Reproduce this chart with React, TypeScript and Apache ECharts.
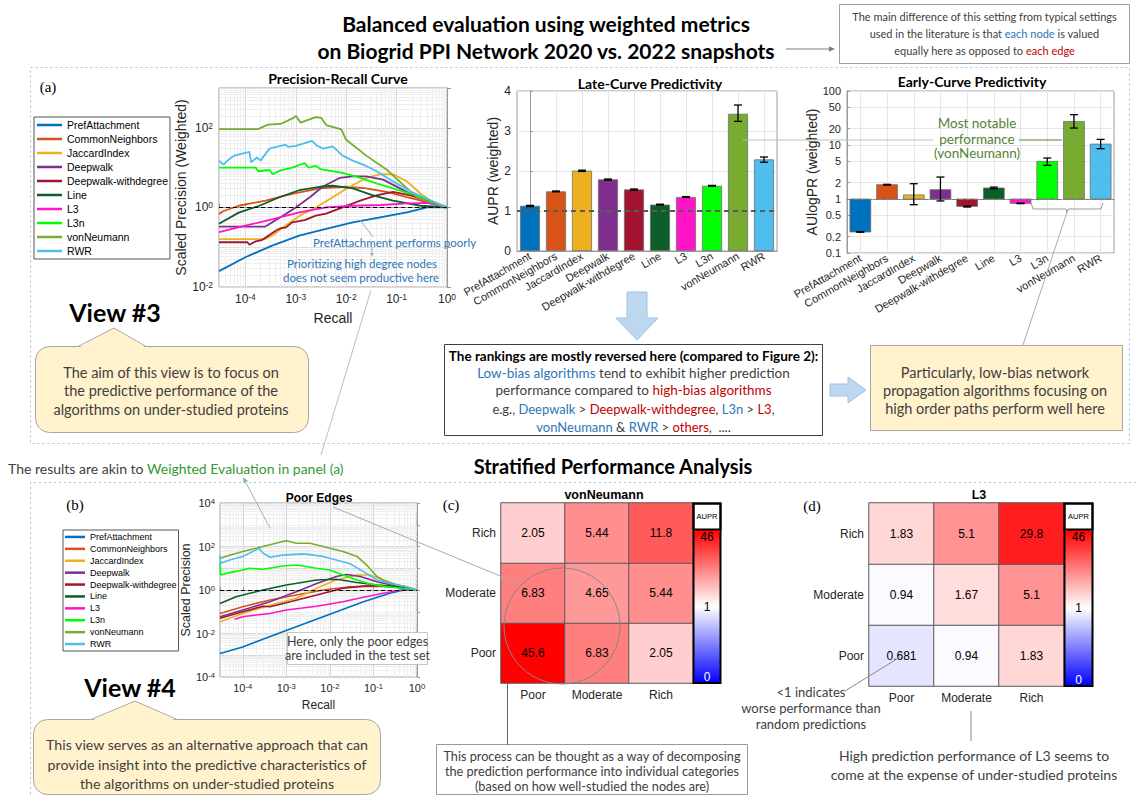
import React, { useEffect, useRef } from 'react';
import * as echarts from 'echarts';

// ---------------- DATA ----------------
const METHODS = ['PrefAttachment', 'CommonNeighbors', 'JaccardIndex', 'Deepwalk', 'Deepwalk-withdegree', 'Line', 'L3', 'L3n', 'vonNeumann', 'RWR'];
const COLORS = ['#0072BD', '#D95319', '#EDB120', '#7E2F8E', '#A2142F', '#0B5E2A', '#FF14C8', '#00FF00', '#77AC30', '#4DBEEE'];

// Panel (a): Precision-Recall curve (weighted) [recall, scaled precision]
const A_PREF = [[3e-5, 0.025], [1e-4, 0.056], [3.4e-4, 0.11], [1.17e-3, 0.195], [4e-3, 0.29], [1.35e-2, 0.42], [4.7e-2, 0.56], [0.16, 0.75], [0.4, 1], [1, 1]];
const A_CN = [[3e-5, 0.68], [3.6e-5, 0.8], [7.4e-5, 1.1], [2.5e-4, 1.48], [8.5e-4, 2.2], [3e-3, 3], [1e-2, 3.3], [2.5e-2, 3], [6.3e-2, 2.45], [0.16, 1.8], [0.4, 1.35], [1, 1]];
const A_JAC = [[3e-5, 0.16], [2.5e-4, 0.16], [3.5e-4, 0.2], [6.3e-4, 0.35], [1.2e-3, 0.62], [2.5e-3, 1], [5.4e-3, 1.8], [1.17e-2, 3.3], [2.5e-2, 5.5], [4.7e-2, 6.8], [8.5e-2, 6.8], [0.16, 4.5], [0.3, 2.2], [0.5, 1.4], [1, 1]];
const A_DW = [[3e-5, 0.33], [2.5e-4, 0.33], [6.3e-4, 0.68], [1e-3, 1], [1.9e-3, 1.8], [3.4e-3, 3.3], [7.4e-3, 5.5], [1.35e-2, 6], [2.5e-2, 6], [5.4e-2, 5], [0.117, 3], [0.25, 1.8], [0.5, 1.35], [1, 1]];
const A_DWD = [[3e-5, 0.133], [1.1e-4, 0.133], [1.2e-4, 0.115], [1.6e-4, 0.14], [2.1e-4, 0.15], [4e-4, 0.26], [5e-4, 0.3], [6.3e-4, 0.31], [8.5e-4, 0.42], [1.5e-3, 0.48], [2.5e-3, 0.62], [4e-3, 0.7], [8.5e-3, 1], [1.9e-2, 1.48], [4e-2, 2], [8.5e-2, 2.45], [0.19, 2.0], [0.4, 1.45], [1, 1]];
const A_LINE = [[3e-5, 0.39], [7.4e-5, 0.74], [1.9e-4, 1.1], [4.7e-4, 1.8], [1.17e-3, 2.7], [3e-3, 3.3], [5.4e-3, 3.5], [1.35e-2, 3], [3.4e-2, 2], [8.5e-2, 1.48], [0.3, 1.1], [1, 1]];
const A_L3 = [[3e-5, 0.24], [1e-4, 0.35], [3.4e-4, 0.5], [1.17e-3, 0.75], [4e-3, 1], [1.35e-2, 1.1], [5e-2, 1.15], [0.16, 1.26], [0.4, 1.3], [1, 1]];
const A_L3N = [[3e-5, 10], [1.6e-4, 10], [1.8e-4, 8.1], [3e-4, 8.7], [3.5e-4, 6.8], [5e-4, 8.5], [8.5e-4, 10], [1.5e-3, 12.9], [1.8e-3, 10], [2.5e-3, 11], [3.2e-3, 9], [8.5e-3, 7.4], [1.9e-2, 5.5], [4e-2, 4], [8.5e-2, 3], [0.19, 2.2], [0.4, 1.6], [1, 1]];
const A_VN = [[3e-5, 93], [1.8e-4, 93], [2.8e-4, 120], [5e-4, 125], [9e-4, 178], [1e-3, 200], [1.25e-3, 135], [2.5e-3, 186], [3.2e-3, 178], [4e-3, 117], [8e-3, 91], [1e-2, 50], [2.5e-2, 20], [6.3e-2, 9], [0.126, 4], [0.25, 1.8], [0.5, 1.3], [1, 1]];
const A_RWR = [[3e-5, 15], [3.7e-5, 12], [5e-5, 17], [6e-5, 20], [1.2e-4, 25], [1.3e-4, 13.5], [1.7e-4, 18], [2e-4, 15], [3e-4, 30], [6.3e-4, 38], [7e-4, 33], [1e-3, 35], [2.1e-3, 47], [2.6e-3, 36], [3.5e-3, 30], [5.4e-3, 34], [8.5e-3, 20], [1.35e-2, 15], [2.5e-2, 11], [4e-2, 8.1], [8.5e-2, 4.5], [0.19, 2.5], [0.4, 1.65], [1, 1]];

// Panel (b): Poor edges PR curve
const B_PREF = [[3e-5, 0.0012], [1e-4, 0.0024], [8.3e-4, 0.012], [7e-3, 0.059], [5.9e-2, 0.29], [0.24, 0.71], [0.49, 1], [1, 1]];
const B_CN = [[3e-5, 0.083], [1e-4, 0.17], [4.2e-4, 0.35], [1.7e-3, 0.59], [7e-3, 1], [2.9e-2, 1.4], [0.12, 1.5], [0.4, 1.3], [1, 1]];
const B_JAC = [[3e-5, 0.035], [1e-4, 0.083], [4.2e-4, 0.2], [1.7e-3, 0.42], [5.9e-3, 1.4], [1.4e-2, 2.9], [4.2e-2, 4.9], [8.3e-2, 4.9], [0.17, 2.9], [0.4, 1.6], [1, 1]];
const B_DW = [[3e-5, 0.059], [1e-4, 0.12], [4.2e-4, 0.29], [1.7e-3, 0.83], [5e-3, 2.0], [1.4e-2, 4.2], [2.4e-2, 5.2], [5e-2, 4.2], [0.12, 2.4], [0.35, 1.5], [1, 1]];
const B_DWD = [[3e-5, 0.05], [1e-4, 0.1], [2.9e-4, 0.18], [4.2e-4, 0.17], [1e-3, 0.26], [5e-3, 0.59], [2e-2, 1.2], [5.9e-2, 1.5], [0.17, 1.6], [0.4, 1.35], [1, 1]];
const B_LINE = [[3e-5, 0.24], [7e-5, 0.49], [2.9e-4, 1], [1e-3, 1.7], [5e-3, 2.9], [1.4e-2, 3.1], [4.2e-2, 2.2], [0.12, 1.7], [0.35, 1.4], [1, 1]];
const B_L3 = [[6.5e-5, 0.045], [1e-4, 0.059], [2e-4, 0.071], [4.2e-4, 0.083], [1e-3, 0.12], [5e-3, 0.18], [2e-2, 0.29], [5.9e-2, 0.46], [0.17, 0.71], [0.42, 1], [1, 1]];
const B_L3N = [[3e-5, 17], [3.1e-5, 4.9], [5e-5, 6.3], [1e-4, 8.3], [1.4e-4, 10], [2.9e-4, 9], [8.3e-4, 12.6], [1.7e-3, 14], [5e-3, 10], [1e-2, 8.3], [2e-2, 4.9], [4.2e-2, 2.9], [8.3e-2, 1.9], [0.17, 1.5], [1, 1]];
const B_VN = [[3e-5, 29], [5e-5, 40], [1e-4, 59], [2.9e-4, 100], [8.3e-4, 170], [1e-3, 182], [1.7e-3, 141], [3.5e-3, 141], [7e-3, 100], [2e-2, 59], [4.2e-2, 35], [7e-2, 14], [0.12, 4.2], [0.2, 2.4], [0.35, 1.7], [0.59, 1.4], [1, 1]];
const B_RWR = [[3e-5, 40], [3.1e-5, 17], [5e-5, 24], [1e-4, 35], [2e-4, 70], [2.4e-4, 80], [2.9e-4, 50], [4.2e-4, 32], [8.3e-4, 40], [2.5e-3, 46], [7e-3, 35], [1.4e-2, 24], [2.9e-2, 16], [5.9e-2, 7], [0.12, 2.9], [0.24, 2.0], [0.5, 1.5], [1, 1]];

// Late-curve predictivity (AUPR weighted) with error bars
const LATE_AUPR = [1.13, 1.49, 2.01, 1.79, 1.54, 1.16, 1.35, 1.63, 3.43, 2.29];
const LATE_LO = [1.11, 1.48, 1.99, 1.77, 1.52, 1.15, 1.34, 1.62, 3.24, 2.22];
const LATE_HI = [1.14, 1.50, 2.02, 1.80, 1.55, 1.17, 1.36, 1.64, 3.65, 2.35];

// Early-curve predictivity (AUlogPR weighted)
const EARLY_AULOGPR = [0.245, 1.84, 1.19, 1.49, 0.73, 1.6, 0.83, 4.98, 27.3, 10.4];
const EARLY_LO = [0.243, 1.81, 0.785, 0.92, 0.71, 1.55, 0.82, 4.2, 20.6, 8.55];
const EARLY_HI = [0.248, 1.87, 1.92, 2.55, 0.74, 1.66, 0.84, 5.74, 36.5, 12.7];
const EARLY_TICKS = [0.1, 0.2, 0.5, 1, 2, 5, 10, 20, 50, 100];

// Stratified heatmaps (rows from bottom: Poor, Moderate, Rich; columns Poor, Moderate, Rich)
const STRATA = ['Poor', 'Moderate', 'Rich'];
const VN_POOR = [45.6, 6.83, 2.05];
const VN_MOD = [6.83, 4.65, 5.44];
const VN_RICH = [2.05, 5.44, 11.8];
const L3_POOR = [0.681, 0.94, 1.83];
const L3_MOD = [0.94, 1.67, 5.1];
const L3_RICH = [1.83, 5.1, 29.8];
const CBAR_MAX = 46;

// ---------------- OPTION ----------------
const FA = 'Liberation Sans, Arial, sans-serif';
const FC = 'Lato, sans-serif';
const AXC = '#9a9a9a';
const LBL = '#262626';
const BLUE = '#2E75B6';
const RED = '#C00000';
const GREEN = '#548235';
const XMIN = 3e-5;

function minorLogs(lo: number, hi: number) {
  const out: number[] = [];
  for (let e = Math.floor(lo); e < Math.ceil(hi); e++) {
    for (let k = 2; k <= 9; k++) {
      const v = e + Math.log10(k);
      if (v > lo && v < hi) out.push(v);
    }
  }
  return out;
}

function supLabel(v: number, evenOnly: boolean) {
  const e = Math.log10(v);
  const r = Math.round(e);
  if (Math.abs(e - r) > 1e-6) return '';
  if (evenOnly && r % 2 !== 0) return '';
  return '{b|10}{s|' + r + '}';
}

function buildOption() {
  const richLog = (fs: number) => ({
    b: { fontSize: fs, fontFamily: FA, color: LBL },
    s: { fontSize: fs * 0.7, fontFamily: FA, color: LBL, verticalAlign: 'top' },
  });

  const dashed1 = (color: string, width: number, dash: number[]) => ({
    silent: true, symbol: 'none', label: { show: false }, animation: false,
    lineStyle: { type: dash, color, width }, data: [{ yAxis: 1 }],
  });

  const series: any[] = [];
  const A_SET = [A_PREF, A_CN, A_JAC, A_DW, A_DWD, A_LINE, A_L3, A_L3N, A_VN, A_RWR];
  const B_SET = [B_PREF, B_CN, B_JAC, B_DW, B_DWD, B_LINE, B_L3, B_L3N, B_VN, B_RWR];
  A_SET.forEach((d, i) => {
    const s: any = {
      type: 'line', name: METHODS[i], xAxisIndex: 0, yAxisIndex: 0, data: d, symbol: 'none', showSymbol: false,
      lineStyle: { width: 1.8, color: COLORS[i] }, itemStyle: { color: COLORS[i] }, z: 3, silent: true,
    };
    if (i === 0) s.markLine = dashed1('#000', 1, [4, 3]);
    series.push(s);
  });
  B_SET.forEach((d, i) => {
    const s: any = {
      type: 'line', name: METHODS[i], xAxisIndex: 3, yAxisIndex: 3, data: d, symbol: 'none', showSymbol: false,
      lineStyle: { width: 1.6, color: COLORS[i] }, itemStyle: { color: COLORS[i] }, z: 3, silent: true,
    };
    if (i === 0) s.markLine = dashed1('#000', 1, [4, 3]);
    series.push(s);
  });

  const errRender = (capW: number) => (params: any, api: any) => {
    const x = api.value(0), lo = api.value(1), hi = api.value(2);
    const a = api.coord([x, lo]);
    const b = api.coord([x, hi]);
    const st = { stroke: '#000', lineWidth: 1.3 };
    return {
      type: 'group', children: [
        { type: 'line', shape: { x1: a[0], y1: a[1], x2: b[0], y2: b[1] }, style: st },
        { type: 'line', shape: { x1: a[0] - capW, y1: a[1], x2: a[0] + capW, y2: a[1] }, style: st },
        { type: 'line', shape: { x1: b[0] - capW, y1: b[1], x2: b[0] + capW, y2: b[1] }, style: st },
      ],
    };
  };

  // Late bars
  series.push({
    type: 'bar', xAxisIndex: 1, yAxisIndex: 1, silent: true, z: 3,
    data: LATE_AUPR.map((v, i) => ({ value: v, itemStyle: { color: COLORS[i] } })),
    barWidth: '77%', itemStyle: { borderColor: '#6e6e6e', borderWidth: 0.8 },
    markLine: dashed1('#5a5a5a', 2, [5, 4]),
  });
  series.push({
    type: 'custom', xAxisIndex: 1, yAxisIndex: 1, silent: true, z: 5,
    data: METHODS.map((m, i) => [i, LATE_LO[i], LATE_HI[i]]),
    encode: { x: 0, y: [1, 2] }, renderItem: errRender(4),
  });

  // Early bars (from 1 on a log axis)
  series.push({
    type: 'custom', xAxisIndex: 2, yAxisIndex: 2, silent: true, z: 3,
    data: METHODS.map((m, i) => [i, EARLY_AULOGPR[i]]),
    encode: { x: 0, y: 1 },
    renderItem: (params: any, api: any) => {
      const i = api.value(0), v = api.value(1);
      const base = api.coord([i, 1]);
      const top = api.coord([i, v]);
      const w = api.size([1, 1])[0] * 0.78;
      return {
        type: 'rect',
        shape: { x: base[0] - w / 2, y: Math.min(base[1], top[1]), width: w, height: Math.abs(base[1] - top[1]) },
        style: { fill: COLORS[i], stroke: '#6e6e6e', lineWidth: 0.8 },
      };
    },
  });
  series.push({
    type: 'line', xAxisIndex: 2, yAxisIndex: 2, silent: true, z: 4, data: [[0, 1]], symbol: 'none',
    lineStyle: { opacity: 0 }, markLine: dashed1('#7a7a7a', 1.2, [4, 3]),
  });
  series.push({
    type: 'custom', xAxisIndex: 2, yAxisIndex: 2, silent: true, z: 5,
    data: METHODS.map((m, i) => [i, EARLY_LO[i], EARLY_HI[i]]),
    encode: { x: 0, y: [1, 2] }, renderItem: errRender(4),
  });

  // Heatmaps
  const hm = (rows: number[][]) => {
    const out: number[][] = [];
    rows.forEach((row, y) => row.forEach((v, x) => out.push([x, y, v, Math.log10(v)])));
    return out;
  };
  const hmSeries = (xi: number, rows: number[][]) => ({
    type: 'heatmap', xAxisIndex: xi, yAxisIndex: xi, silent: true, data: hm(rows),
    label: { show: true, formatter: (p: any) => String(p.value[2]), fontSize: 12, fontFamily: FA, color: '#000' },
    itemStyle: { borderColor: '#5a5a5a', borderWidth: 1 },
  });
  const idxC = series.length;
  series.push(hmSeries(4, [VN_POOR, VN_MOD, VN_RICH]));
  const idxD = series.length;
  series.push(hmSeries(5, [L3_POOR, L3_MOD, L3_RICH]));

  const LM = Math.log10(CBAR_MAX);
  const vmBase = {
    type: 'continuous', dimension: 3, min: -LM, max: LM, calculable: false, hoverLink: false, padding: 0,
    inRange: { color: ['#0000FF', '#FFFFFF', '#FF0000'] }, orient: 'vertical',
  };

  const axisBox = { show: true, lineStyle: { color: AXC } };
  const nameStyle = (fs: number) => ({ fontSize: fs, fontFamily: FA, color: LBL });

  const xAxis: any[] = [
    { // 0: (a) recall
      type: 'log', gridIndex: 0, min: XMIN, max: 1, logBase: 10,
      axisLine: axisBox, axisTick: { show: true, inside: true, length: 4, lineStyle: { color: AXC } },
      axisLabel: { formatter: (v: number) => supLabel(v, false), rich: richLog(12), margin: 6 },
      splitLine: { show: true, lineStyle: { color: '#dcdcdc' } },
      name: 'Recall', nameLocation: 'middle', nameGap: 24, nameTextStyle: nameStyle(14),
    },
    { // 1: late categories
      type: 'category', gridIndex: 1, data: METHODS, axisLine: axisBox, axisTick: { show: false },
      axisLabel: { rotate: 30, interval: 0, fontSize: 11, fontFamily: FA, color: LBL, margin: 4 },
      splitLine: { show: false },
    },
    { // 2: early categories
      type: 'category', gridIndex: 2, data: METHODS, axisLine: axisBox, axisTick: { show: false },
      axisLabel: { rotate: 30, interval: 0, fontSize: 11, fontFamily: FA, color: LBL, margin: 4 },
      splitLine: { show: false },
    },
    { // 3: (b) recall
      type: 'log', gridIndex: 3, min: XMIN, max: 1, logBase: 10,
      axisLine: axisBox, axisTick: { show: true, inside: true, length: 3, lineStyle: { color: AXC } },
      axisLabel: { formatter: (v: number) => supLabel(v, false), rich: richLog(11), margin: 5 },
      splitLine: { show: true, lineStyle: { color: '#d8d8d8' } },
      name: 'Recall', nameLocation: 'middle', nameGap: 22, nameTextStyle: nameStyle(12),
    },
    { // 4: heatmap c
      type: 'category', gridIndex: 4, data: STRATA, axisLine: { show: false }, axisTick: { show: false },
      axisLabel: { interval: 0, fontSize: 12, fontFamily: FA, color: LBL, margin: 6 }, splitLine: { show: false },
    },
    { // 5: heatmap d
      type: 'category', gridIndex: 5, data: STRATA, axisLine: { show: false }, axisTick: { show: false },
      axisLabel: { interval: 0, fontSize: 12, fontFamily: FA, color: LBL, margin: 6 }, splitLine: { show: false },
    },
    { // 6: (a) minor grid overlay
      type: 'value', gridIndex: 0, position: 'top', min: Math.log10(XMIN), max: 0,
      axisLine: { show: false }, axisTick: { show: false, customValues: minorLogs(Math.log10(XMIN), 0) },
      axisLabel: { show: false, customValues: minorLogs(Math.log10(XMIN), 0) },
      splitLine: { show: true, lineStyle: { color: '#efefef' } },
    },
    { // 7: late vertical grid overlay
      type: 'value', gridIndex: 1, position: 'top', min: -0.5, max: METHODS.length - 0.5,
      axisLine: { show: false }, axisTick: { show: false, customValues: METHODS.map((m, i) => i) },
      axisLabel: { show: false, customValues: METHODS.map((m, i) => i) },
      splitLine: { show: true, lineStyle: { color: '#e6e6e6' } },
    },
    { // 8: early vertical grid overlay
      type: 'value', gridIndex: 2, position: 'top', min: -0.5, max: METHODS.length - 0.5,
      axisLine: { show: false }, axisTick: { show: false, customValues: METHODS.map((m, i) => i) },
      axisLabel: { show: false, customValues: METHODS.map((m, i) => i) },
      splitLine: { show: true, lineStyle: { color: '#e6e6e6' } },
    },
    { // 9: (b) minor grid overlay
      type: 'value', gridIndex: 3, position: 'top', min: Math.log10(XMIN), max: 0,
      axisLine: { show: false }, axisTick: { show: false, customValues: minorLogs(Math.log10(XMIN), 0) },
      axisLabel: { show: false, customValues: minorLogs(Math.log10(XMIN), 0) },
      splitLine: { show: true, lineStyle: { color: '#efefef' } },
    },
  ];

  const earlyTickLogs = EARLY_TICKS.map((t) => Math.log10(t));
  const yAxis: any[] = [
    { // 0: (a)
      type: 'log', gridIndex: 0, min: 1e-2, max: 1e3, logBase: 10,
      axisLine: axisBox, axisTick: { show: true, inside: true, length: 4, lineStyle: { color: AXC } },
      axisLabel: { formatter: (v: number) => supLabel(v, true), rich: richLog(12), margin: 6 },
      splitLine: { show: true, lineStyle: { color: '#dcdcdc' } },
      name: 'Scaled Precision (Weighted)', nameLocation: 'middle', nameGap: 27, nameTextStyle: nameStyle(14),
    },
    { // 1: late
      type: 'value', gridIndex: 1, min: 0, max: 4, interval: 1,
      axisLine: axisBox, axisTick: { show: true, inside: true, length: 3, lineStyle: { color: AXC } },
      axisLabel: { fontSize: 12, fontFamily: FA, color: LBL, margin: 6 },
      splitLine: { show: true, lineStyle: { color: '#e6e6e6' } },
      name: 'AUPR (weighted)', nameLocation: 'middle', nameGap: 14, nameTextStyle: nameStyle(14),
    },
    { // 2: early (log data axis, hidden)
      type: 'log', gridIndex: 2, min: 0.1, max: 100, logBase: 10, position: 'right',
      axisLine: { show: false }, axisTick: { show: false }, axisLabel: { show: false }, splitLine: { show: false },
    },
    { // 3: (b)
      type: 'log', gridIndex: 3, min: 1e-4, max: 1e4, logBase: 10, splitNumber: 8,
      axisLine: axisBox, axisTick: { show: true, inside: true, length: 3, lineStyle: { color: AXC } },
      axisLabel: { formatter: (v: number) => supLabel(v, true), rich: richLog(11), margin: 5 },
      splitLine: { show: true, lineStyle: { color: '#d8d8d8' } },
      name: 'Scaled Precision', nameLocation: 'middle', nameGap: 18, nameTextStyle: nameStyle(12.5),
    },
    { // 4: heatmap c rows
      type: 'category', gridIndex: 4, data: STRATA, axisLine: { show: false }, axisTick: { show: false },
      axisLabel: { interval: 0, fontSize: 12, fontFamily: FA, color: LBL, margin: 5 }, splitLine: { show: false },
    },
    { // 5: heatmap d rows
      type: 'category', gridIndex: 5, data: STRATA, axisLine: { show: false }, axisTick: { show: false },
      axisLabel: { interval: 0, fontSize: 12, fontFamily: FA, color: LBL, margin: 5 }, splitLine: { show: false },
    },
    { // 6: (a) minor y overlay
      type: 'value', gridIndex: 0, position: 'right', min: -2, max: 3,
      axisLine: { show: false }, axisTick: { show: false, customValues: minorLogs(-2, 3) },
      axisLabel: { show: false, customValues: minorLogs(-2, 3) },
      splitLine: { show: true, lineStyle: { color: '#efefef' } },
    },
    { // 7: early labelled overlay
      type: 'value', gridIndex: 2, position: 'left', min: -1, max: 2,
      axisLine: axisBox, axisTick: { show: true, inside: true, length: 3, lineStyle: { color: AXC }, customValues: earlyTickLogs },
      axisLabel: {
        customValues: earlyTickLogs, fontSize: 11, fontFamily: FA, color: LBL, margin: 6,
        formatter: (v: number) => String(Number(Math.pow(10, v).toPrecision(2))),
      },
      splitLine: { show: true, lineStyle: { color: '#e6e6e6' } },
      name: 'AUlogPR (weighted)', nameLocation: 'middle', nameGap: 25, nameTextStyle: nameStyle(14),
    },
    { // 8: (b) minor y overlay
      type: 'value', gridIndex: 3, position: 'right', min: -4, max: 4,
      axisLine: { show: false }, axisTick: { show: false, customValues: minorLogs(-4, 4) },
      axisLabel: { show: false, customValues: minorLogs(-4, 4) },
      splitLine: { show: true, lineStyle: { color: '#efefef' } },
    },
  ];

  const grid = [
    { left: 219, top: 88, width: 228, height: 199 },
    { left: 517, top: 91, width: 260, height: 160 },
    { left: 847, top: 91, width: 267, height: 162 },
    { left: 220, top: 503, width: 197, height: 174 },
    { left: 501, top: 503, width: 192, height: 180 },
    { left: 869, top: 503, width: 195, height: 183 },
  ].map((g, i) => ({ ...g, show: i < 4, borderColor: AXC, borderWidth: 1, backgroundColor: 'transparent' }));

  // ---------------- GRAPHIC (annotations) ----------------
  const g: any[] = [];
  const tx = (x: number, y: number, text: string, o: any = {}) => g.push({
    type: 'text', x, y, z: o.z || 70, silent: true,
    style: {
      text, fill: o.fill || '#404040', fontSize: o.size || 13, fontFamily: o.font || FC,
      fontWeight: o.weight || 'normal', align: o.align || 'center', verticalAlign: 'middle', rich: o.rich,
    },
  });
  const ln = (x1: number, y1: number, x2: number, y2: number, stroke = '#999', w = 1, dash?: number[]) => g.push({
    type: 'line', z: 40, silent: true, shape: { x1, y1, x2, y2 }, style: { stroke, lineWidth: w, lineDash: dash },
  });
  const head = (x1: number, y1: number, x2: number, y2: number, fill: string, size = 6) => {
    const a = Math.atan2(y2 - y1, x2 - x1);
    const bx = x2 - size * Math.cos(a), by = y2 - size * Math.sin(a);
    const px = Math.sin(a) * size * 0.45, py = -Math.cos(a) * size * 0.45;
    g.push({ type: 'polygon', z: 41, silent: true, shape: { points: [[x2, y2], [bx + px, by + py], [bx - px, by - py]] }, style: { fill } });
  };
  const rect = (x: number, y: number, w: number, h: number, style: any, r = 0) => g.push({
    type: 'rect', z: 30, silent: true, shape: { x, y, width: w, height: h, r }, style,
  });
  const rt = (fs: number) => ({
    n: { fontSize: fs, fontFamily: FC, fill: '#404040' },
    b: { fontSize: fs, fontFamily: FC, fill: BLUE },
    r: { fontSize: fs, fontFamily: FC, fill: RED },
    g: { fontSize: fs, fontFamily: FC, fill: '#339933' },
  });

  // Title
  tx(546, 23, 'Balanced evaluation using weighted metrics', { size: 21, weight: 'bold', fill: '#000' });
  tx(546, 50, 'on Biogrid PPI Network 2020 vs. 2022 snapshots', { size: 21, weight: 'bold', fill: '#000' });
  // Top-right note
  rect(839.5, 4.5, 290, 59, { fill: '#fff', stroke: '#a0a0a0', lineWidth: 1 });
  tx(984.5, 16, 'The main difference of this setting from typical settings', { size: 11 });
  tx(984.5, 33, '{n|used in the literature is that }{b|each node}{n| is valued}', { rich: rt(11) });
  tx(984.5, 50, '{n|equally here as opposed to }{r|each edge}', { rich: rt(11) });
  ln(786, 49, 829, 49, '#7f7f7f', 1);
  head(786, 49, 835, 49, '#7f7f7f', 6);

  // Dashed panel borders
  g.push({ type: 'rect', z: 1, silent: true, shape: { x: 30.5, y: 67.5, width: 1099, height: 376 }, style: { fill: 'none', stroke: '#9DC3E6', lineWidth: 1, lineDash: [2, 3] } });
  g.push({ type: 'polyline', z: 1, silent: true, shape: { points: [[1136, 482.5], [30.5, 482.5], [30.5, 796]] }, style: { fill: 'none', stroke: '#9DC3E6', lineWidth: 1, lineDash: [2, 3] } });

  // Panel letters
  const serif = 'Liberation Serif, DejaVu Serif, serif';
  tx(48, 87, '(a)', { font: serif, size: 15, fill: '#000' });
  tx(75, 505, '(b)', { font: serif, size: 15, fill: '#000' });
  tx(451, 505, '(c)', { font: serif, size: 15, fill: '#000' });
  tx(812, 506, '(d)', { font: serif, size: 15, fill: '#000' });

  // Chart titles
  tx(338, 78, 'Precision-Recall Curve', { size: 14, weight: 'bold', fill: '#000' });
  tx(650, 83, 'Late-Curve Predictivity', { size: 14, weight: 'bold', fill: '#000' });
  tx(972, 81, 'Early-Curve Predictivity', { size: 14, weight: 'bold', fill: '#000' });
  tx(319, 498, 'Poor Edges', { font: FA, size: 12, weight: 'bold', fill: '#000' });
  tx(604, 495, 'vonNeumann', { font: FA, size: 12.5, weight: 'bold', fill: '#000' });
  tx(979, 495, 'L3', { font: FA, size: 12.5, weight: 'bold', fill: '#000' });

  // View labels
  tx(115, 312, 'View #3', { size: 25, weight: 'bold', fill: '#000' });
  tx(130, 687, 'View #4', { size: 25, weight: 'bold', fill: '#000' });

  // Bubble (a)
  const BUB = { fill: '#FFF2CC', stroke: '#a6a6a6', lineWidth: 1 };
  rect(35.5, 346.5, 273, 86, BUB, 14);
  g.push({ type: 'polygon', z: 31, silent: true, shape: { points: [[78, 348], [114, 328], [146, 348]] }, style: { fill: '#FFF2CC' } });
  g.push({ type: 'polyline', z: 32, silent: true, shape: { points: [[78, 346.5], [114, 328], [146, 346.5]] }, style: { fill: 'none', stroke: '#a6a6a6', lineWidth: 1 } });
  tx(171, 372, 'The aim of this view is to focus on', { size: 14.5 });
  tx(171, 390.5, 'the predictive performance of the', { size: 14.5 });
  tx(171, 409, 'algorithms on under-studied proteins', { size: 14.5 });

  // Bubble (b)
  rect(33.5, 719.5, 347, 75, BUB, 14);
  g.push({ type: 'polygon', z: 31, silent: true, shape: { points: [[91, 721], [135, 701], [177, 721]] }, style: { fill: '#FFF2CC' } });
  g.push({ type: 'polyline', z: 32, silent: true, shape: { points: [[91, 719.5], [135, 701], [177, 719.5]] }, style: { fill: 'none', stroke: '#a6a6a6', lineWidth: 1 } });
  tx(207, 744, 'This view serves as an alternative approach that can', { size: 14.2 });
  tx(207, 764, 'provide insight into the predictive characteristics of', { size: 14.2 });
  tx(207, 783, 'the algorithms on under-studied proteins', { size: 14.2 });

  // Center summary box
  rect(444.5, 344.5, 378, 91, { fill: '#fff', stroke: '#404040', lineWidth: 1 });
  tx(633.5, 356, 'The rankings are mostly reversed here (compared to Figure 2):', { size: 13.5, weight: 'bold', fill: '#000' });
  tx(633.5, 373, '{b|Low-bias algorithms}{n| tend to exhibit higher prediction}', { rich: rt(13.5) });
  tx(633.5, 390, '{n|performance compared to }{r|high-bias algorithms}', { rich: rt(13.5) });
  tx(633.5, 409, '{n|e.g., }{b|Deepwalk}{n| > }{r|Deepwalk-withdegree,}{b| L3n}{n| > }{r|L3}{n|,}', { rich: rt(13) });
  tx(633.5, 427, '{b|vonNeumann}{n| & }{b|RWR}{n| > }{r|others}{n|,  ....}', { rich: rt(13) });

  // Block arrows
  const ARW = { fill: '#BDD7EE', stroke: '#9DC3E6', lineWidth: 1 };
  g.push({ type: 'polygon', z: 30, silent: true, shape: { points: [[627, 292], [647, 292], [647, 318], [658, 318], [637, 340], [616, 318], [627, 318]] }, style: ARW });
  g.push({ type: 'polygon', z: 30, silent: true, shape: { points: [[830, 384], [848, 384], [848, 377], [866, 390], [848, 403], [848, 396], [830, 396]] }, style: ARW });

  // Yellow box right
  rect(870.5, 345.5, 252, 85, BUB);
  tx(995, 372, 'Particularly, low-bias network', { size: 14.5 });
  tx(995, 390, 'propagation algorithms focusing on', { size: 14.5 });
  tx(995, 408, 'high order paths perform well here', { size: 14.5 });

  // Mid texts
  tx(8, 468, '{n|The results are akin to }{g|Weighted Evaluation in panel (a)}', { align: 'left', rich: rt(14) });
  tx(613, 466, 'Stratified Performance Analysis', { size: 20, weight: 'bold', fill: '#000' });

  // PR (a) annotations
  tx(313, 242, 'PrefAttachment performs poorly', { align: 'left', size: 11.5, fill: BLUE });
  tx(362, 263, 'Prioritizing high degree nodes', { size: 11.5, fill: BLUE });
  tx(361, 277.5, 'does not seem productive here', { size: 11.5, fill: BLUE });
  ln(360, 220, 373, 237, '#8fb4d9', 1);
  ln(372, 247, 372, 253, '#8fb4d9', 1);
  head(372, 247, 372, 257, '#8fb4d9', 4);

  // Most notable performance
  ln(743, 140, 933, 140, '#A9CBA0', 1);
  ln(1019, 140, 1062, 140, GREEN, 1);
  tx(977, 123, 'Most notable', { size: 13.5, fill: GREEN });
  tx(977, 138.5, 'performance', { size: 13.5, fill: GREEN });
  tx(977, 153, '(vonNeumann)', { size: 13.5, fill: GREEN });

  // Bracket & connector to yellow box
  g.push({ type: 'polyline', z: 40, silent: true, shape: { points: [[1031, 203], [1033, 209], [1066, 209], [1067, 212], [1068, 209], [1101, 209], [1103, 203]] }, style: { fill: 'none', stroke: '#9a9a9a', lineWidth: 1 } });
  ln(1067, 212, 1023, 345, '#aaa', 1);

  // Connectors
  ln(371, 290, 321, 455, '#bdbdbd', 1);
  ln(270, 528, 246, 483, '#8fbc8f', 1);
  head(270, 528, 243, 477, '#8fbc8f', 6);
  ln(333, 507, 522, 585, '#aaa', 1);
  g.push({ type: 'circle', z: 40, silent: true, shape: { cx: 562, cy: 626, r: 58 }, style: { fill: 'none', stroke: '#888', lineWidth: 1 } });
  ln(507.5, 683, 507.5, 745, '#666', 1);

  // Bottom decomposition box
  rect(436.5, 744.5, 311, 50, { fill: '#fff', stroke: '#999', lineWidth: 1 });
  tx(592, 756, 'This process can be thought as a way of decomposing', { size: 12.7 });
  tx(592, 771, 'the prediction performance into individual categories', { size: 12.7 });
  tx(592, 786, '(based on how well-studied the nodes are)', { size: 12.7 });

  // (d) annotations
  tx(811, 692, '<1 indicates', { size: 13 });
  tx(811, 708, 'worse performance than', { size: 13 });
  tx(811, 724, 'random predictions', { size: 13 });
  ln(900, 657, 845, 691, '#888', 1);
  ln(971, 711, 971, 741, '#888', 1);
  tx(974, 755, 'High prediction performance of L3 seems to', { size: 14 });
  tx(974, 774, 'come at the expense of under-studied proteins', { size: 14 });

  // Poor edges note
  rect(287.5, 632.5, 140, 32, { fill: '#fff', stroke: '#b9cdb9', lineWidth: 1 });
  tx(357.5, 641, 'Here, only the poor edges', { size: 12.5 });
  tx(357.5, 655, 'are included in the test set', { size: 12.5 });

  // Colorbar frames
  const cbar = (x: number, top: number, w: number, bottom: number, lab: number[]) => {
    g.push({ type: 'rect', z: 60, silent: true, shape: { x, y: top, width: w, height: 26 }, style: { fill: '#fff', stroke: '#000', lineWidth: 2 } });
    g.push({ type: 'rect', z: 60, silent: true, shape: { x, y: top, width: w, height: bottom - top }, style: { fill: 'none', stroke: '#000', lineWidth: 2 } });
    tx(x + w / 2, top + 13, 'AUPR', { font: FA, size: 7.5, fill: '#000', z: 80 });
    tx(x + w / 2, lab[0], String(CBAR_MAX), { font: FA, size: 12, fill: '#000', z: 80 });
    tx(x + w / 2, lab[1], '1', { font: FA, size: 12, fill: '#000', z: 80 });
    tx(x + w / 2, lab[2], '0', { font: FA, size: 12, fill: '#fff', z: 80 });
  };
  cbar(693.5, 503.5, 27, 683, [537, 607, 677]);
  cbar(1064.5, 503.5, 28, 686, [537, 608, 680]);

  return {
    animation: false,
    backgroundColor: '#fff',
    textStyle: { fontFamily: FA },
    grid, xAxis, yAxis, series,
    legend: [
      {
        data: METHODS, left: 34, top: 117, orient: 'vertical', icon: 'rect', itemWidth: 25, itemHeight: 2.5, itemGap: 0,
        selectedMode: false, borderColor: '#555', borderWidth: 1, padding: [1, 2, 1, 3], backgroundColor: '#fff',
        textStyle: { fontSize: 10.5, fontFamily: FA, color: '#000', lineHeight: 14 },
      },
      {
        data: METHODS, left: 63, top: 530, orient: 'vertical', icon: 'rect', itemWidth: 20, itemHeight: 2.5, itemGap: 0,
        selectedMode: false, borderColor: '#555', borderWidth: 1, padding: [1, 2, 1, 2], backgroundColor: '#fff',
        textStyle: { fontSize: 9, fontFamily: FA, color: '#000', lineHeight: 11.9 },
      },
    ],
    visualMap: [
      { ...vmBase, seriesIndex: idxC, left: 694, top: 530, itemWidth: 26, itemHeight: 153 },
      { ...vmBase, seriesIndex: idxD, left: 1065, top: 530, itemWidth: 27, itemHeight: 156 },
    ],
    graphic: { elements: g },
  };
}

export default function App() {
  const ref = useRef<HTMLDivElement>(null);
  useEffect(() => {
    const chart = echarts.init(ref.current as HTMLDivElement, null, { renderer: 'svg' });
    chart.setOption(buildOption() as any);
    return () => chart.dispose();
  }, []);
  return <div ref={ref} style={{ position: 'absolute', left: 0, top: 0, width: 1136, height: 796, background: '#fff' }} />;
}
